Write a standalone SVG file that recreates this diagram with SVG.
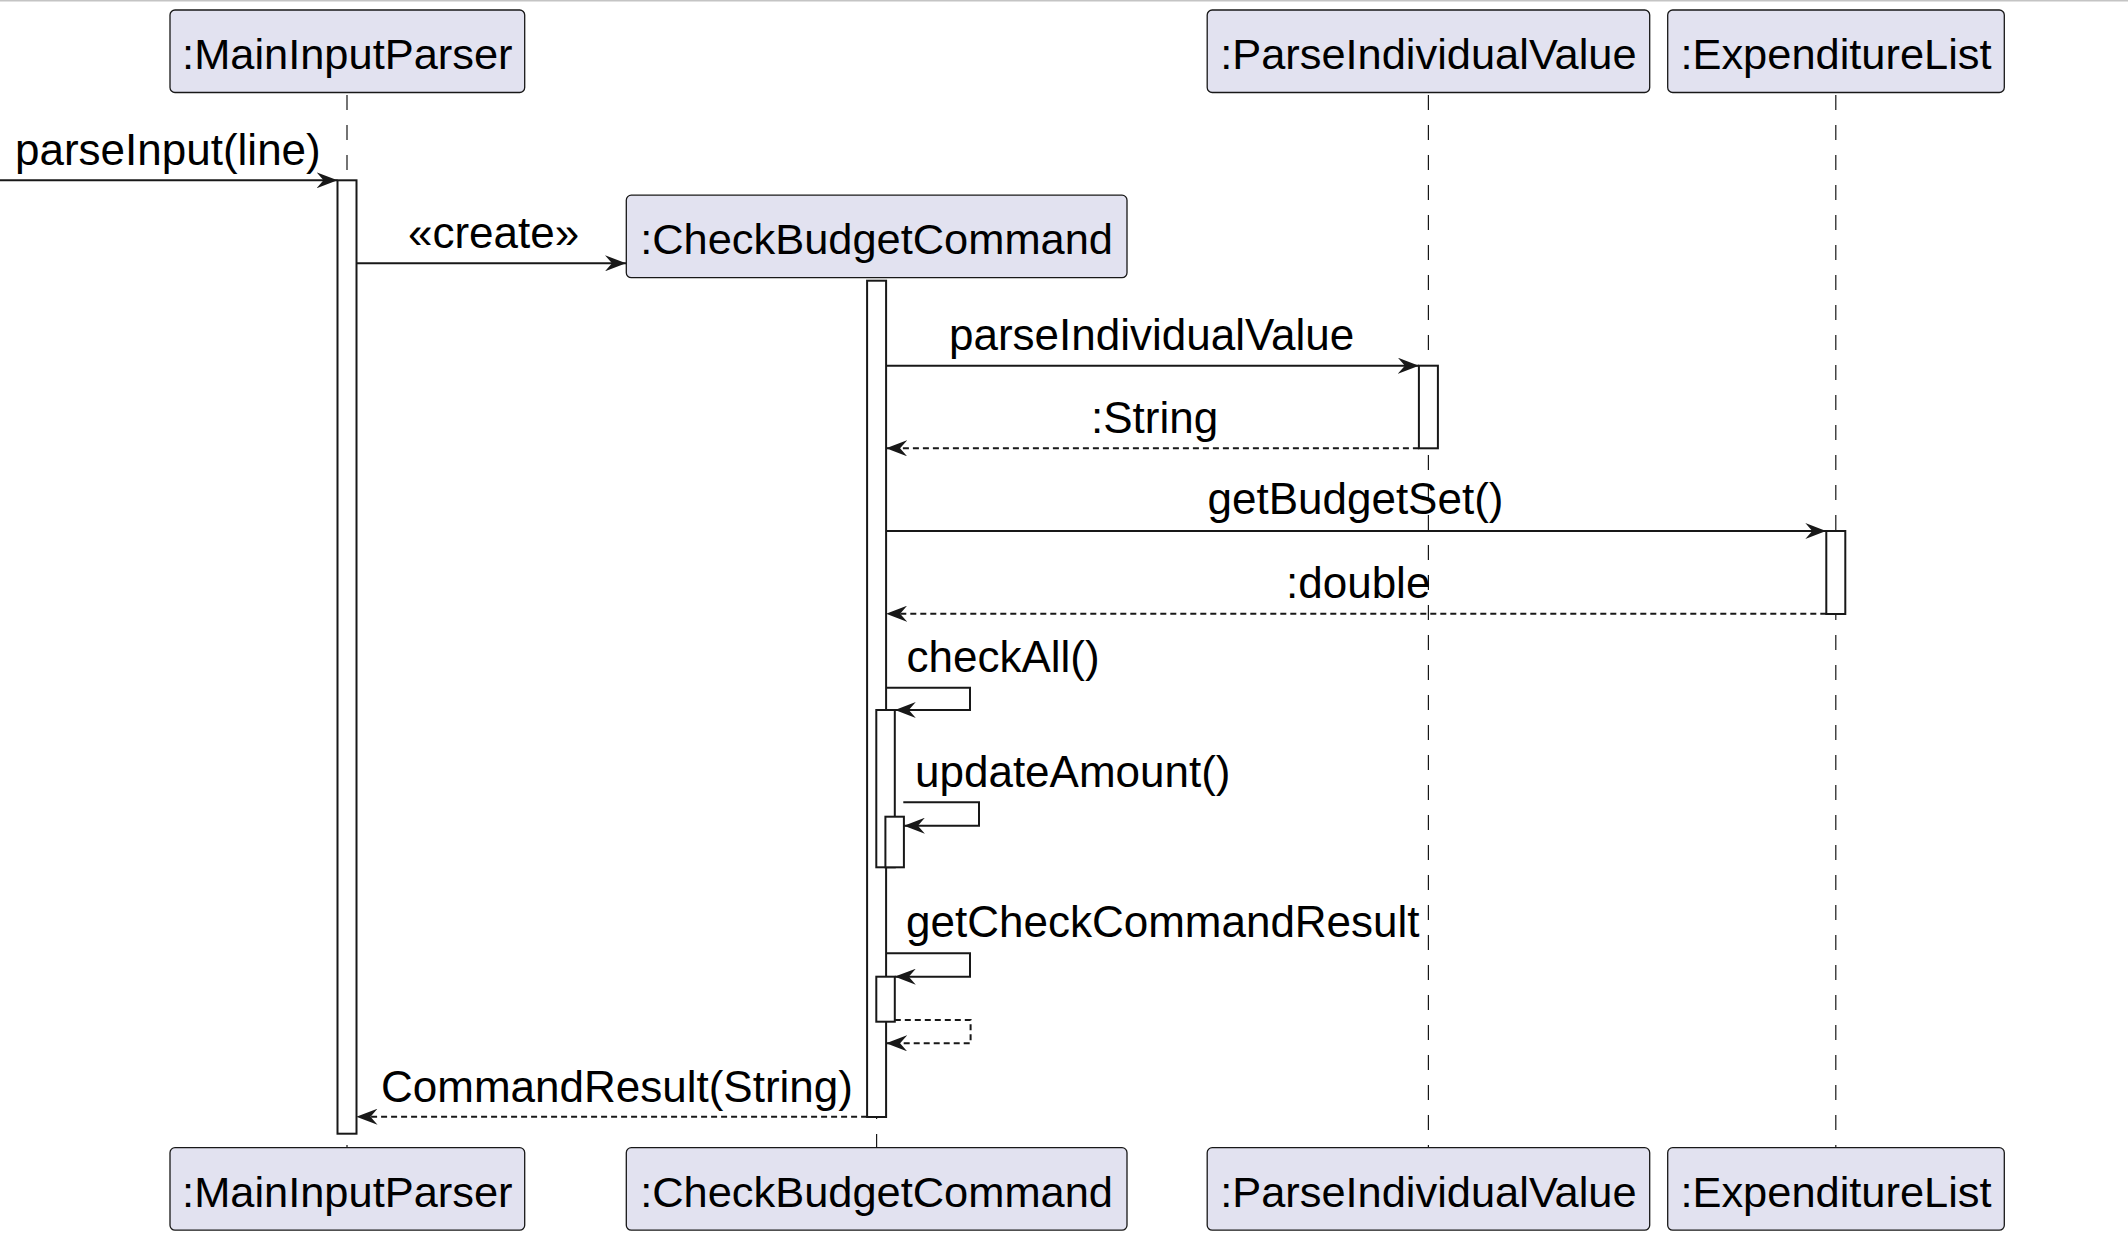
<svg xmlns="http://www.w3.org/2000/svg" width="2128" height="1256" viewBox="0 0 2128 1256">
<style>
text{font-family:"Liberation Sans",Arial,sans-serif;font-size:44px;fill:#000}
.pl{text-anchor:middle;font-size:43.4px}
.box{fill:#E2E2F0;stroke:#181818;stroke-width:1.3}
.life{stroke:#181818;stroke-width:1.2;stroke-dasharray:15,15;fill:none}
.act{fill:#fff;stroke:#181818;stroke-width:2}
.msg{stroke:#181818;stroke-width:2;fill:none;marker-end:url(#ah)}
.ret{stroke:#181818;stroke-width:2;fill:none;stroke-dasharray:6,4;marker-end:url(#ah)}
</style>
<defs>
<marker id="ah" viewBox="0 0 21 16" refX="21" refY="8" markerWidth="21" markerHeight="16" markerUnits="userSpaceOnUse" orient="auto">
<path d="M0,0 L21,8 L0,16 L7,8 Z" fill="#181818"/>
</marker>
</defs>
<rect x="0" y="0" width="2128" height="1.5" fill="#c4c4c4"/>
<g id="lifelines">
<line class="life" x1="347" y1="95" x2="347" y2="1147.7"/>
<line class="life" x1="876.6" y1="294" x2="876.6" y2="1147.7"/>
<line class="life" x1="1428.4" y1="95" x2="1428.4" y2="1147.7"/>
<line class="life" x1="1835.8" y1="95" x2="1835.8" y2="1147.7"/>
</g>
<g id="MainInputParser">
<rect class="box" x="170" y="10" width="354.7" height="82.5" rx="5"/>
<text class="pl" x="347.3" y="69">:MainInputParser</text>
<rect class="box" x="170" y="1147.7" width="354.7" height="82.5" rx="5"/>
<text class="pl" x="347.3" y="1206.7">:MainInputParser</text>
<rect class="act" x="337.5" y="180.3" width="19" height="953.4"/>
</g>
<g id="CheckBudgetCommand">
<rect class="box" x="626.3" y="195.2" width="500.7" height="82.5" rx="5"/>
<text class="pl" x="876.6" y="254.2">:CheckBudgetCommand</text>
<rect class="box" x="626.3" y="1147.7" width="500.7" height="82.5" rx="5"/>
<text class="pl" x="876.6" y="1206.7">:CheckBudgetCommand</text>
<rect class="act" x="867.1" y="280.7" width="19" height="836.3"/>
<rect class="act" x="876.3" y="710" width="18.5" height="157.3"/>
<rect class="act" x="885.4" y="816.7" width="18.5" height="50.6"/>
<rect class="act" x="876.3" y="976.7" width="18.5" height="45"/>
</g>
<g id="ParseIndividualValue">
<rect class="box" x="1207.2" y="10" width="442.5" height="82.5" rx="5"/>
<text class="pl" x="1428.4" y="69">:ParseIndividualValue</text>
<rect class="box" x="1207.2" y="1147.7" width="442.5" height="82.5" rx="5"/>
<text class="pl" x="1428.4" y="1206.7">:ParseIndividualValue</text>
<rect class="act" x="1418.9" y="365.7" width="19" height="82.6"/>
</g>
<g id="ExpenditureList">
<rect class="box" x="1667.7" y="10" width="336.6" height="82.5" rx="5"/>
<text class="pl" x="1836" y="69">:ExpenditureList</text>
<rect class="box" x="1667.7" y="1147.7" width="336.6" height="82.5" rx="5"/>
<text class="pl" x="1836" y="1206.7">:ExpenditureList</text>
<rect class="act" x="1826.3" y="531" width="19" height="83"/>
</g>
<g id="connectors">
<line class="msg" x1="0" y1="180.3" x2="337.5" y2="180.3"/>
<text x="15" y="165">parseInput(line)</text>
<line class="msg" x1="356.5" y1="263.3" x2="626" y2="263.3"/>
<text x="408" y="247.7">«create»</text>
<line class="msg" x1="886.1" y1="365.7" x2="1418.9" y2="365.7"/>
<text x="949" y="350">parseIndividualValue</text>
<line class="ret" x1="1418.9" y1="448.3" x2="886.1" y2="448.3"/>
<text x="1091" y="433.3">:String</text>
<line class="msg" x1="886.1" y1="531" x2="1826.3" y2="531"/>
<text x="1207.5" y="514.3">getBudgetSet()</text>
<line class="ret" x1="1826.3" y1="613.7" x2="886.1" y2="613.7"/>
<text x="1286" y="597.7">:double</text>
<polyline class="msg" points="886.1,687.7 970,687.7 970,710 894.8,710"/>
<text x="906.5" y="671.7">checkAll()</text>
<polyline class="msg" points="903.3,802.3 979,802.3 979,825.7 903.9,825.7"/>
<text x="915" y="786.7">updateAmount()</text>
<polyline class="msg" points="886.1,953.3 970,953.3 970,976.7 894.8,976.7"/>
<text x="906" y="936.7">getCheckCommandResult</text>
<polyline class="ret" points="894.8,1020 970.6,1020 970.6,1043.3 886.1,1043.3"/>
<line class="ret" x1="867.1" y1="1116.7" x2="356.5" y2="1116.7"/>
<text x="381" y="1101.7">CommandResult(String)</text>
</g>
</svg>
